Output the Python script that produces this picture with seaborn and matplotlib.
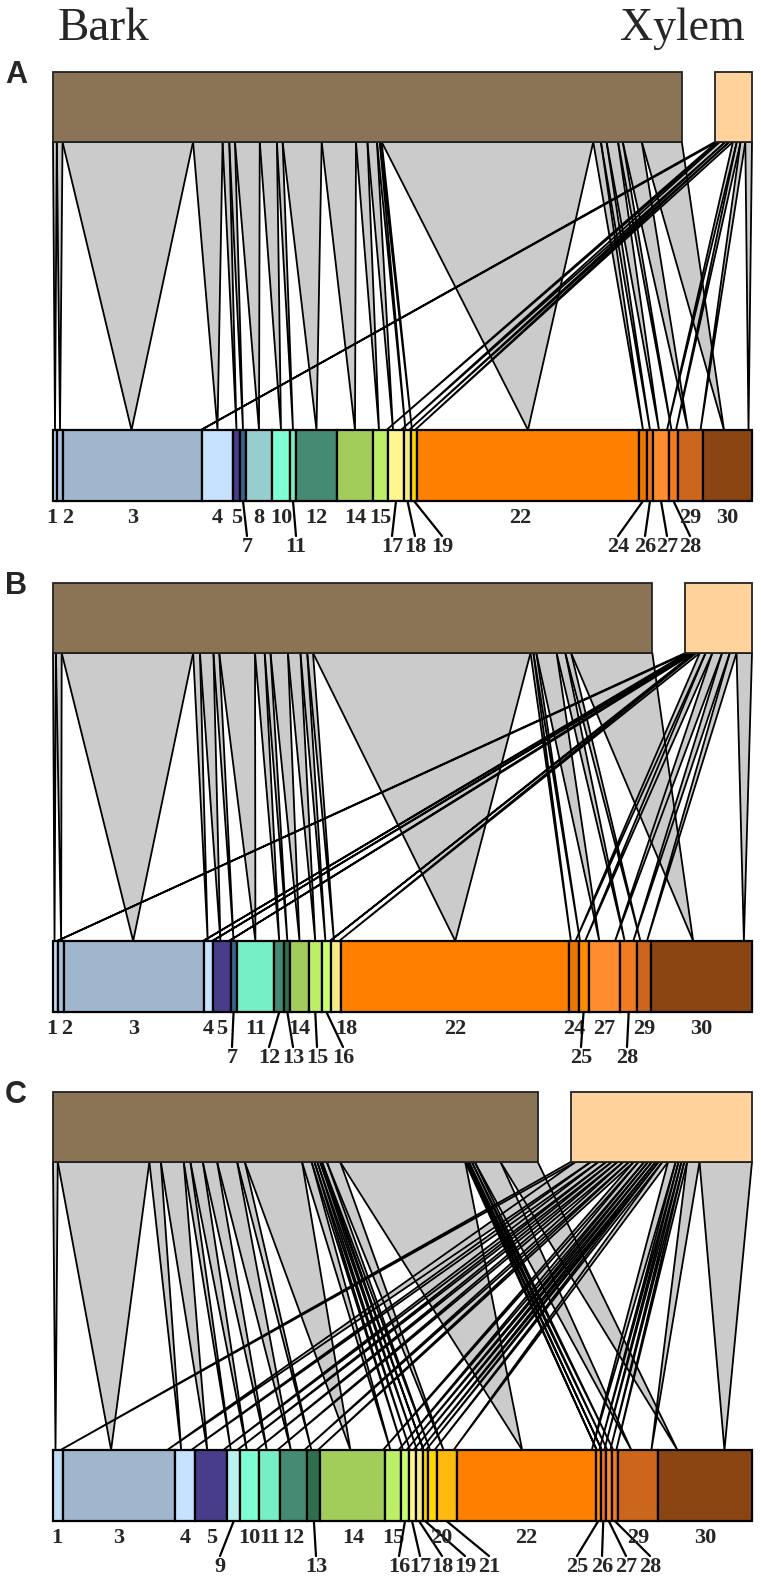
import matplotlib.pyplot as plt
from matplotlib.patches import Rectangle, Polygon
import seaborn as sns

sns.set_theme(style="white")

# colour of each compound group (same in all panels)
cat_colors = {
    1: "#bfdcf5", 2: "#a8c0d8", 3: "#9fb6cd", 4: "#c6e2ff", 5: "#483d8b",
    7: "#36648b", 8: "#96cdcd", 9: "#bbf0f0", 10: "#7fffd4", 11: "#76eec6",
    12: "#458b74", 13: "#2f6f4f", 14: "#a2cd5a", 15: "#bcee68", 16: "#caff70",
    17: "#fff68f", 18: "#f5e98a", 19: "#ffd700", 20: "#ffd700", 21: "#ffb90f",
    22: "#ff7f00", 24: "#ee7600", 25: "#ff8c00", 26: "#ee7621", 27: "#ff8c2e",
    28: "#f07b20", 29: "#cd661d", 30: "#8b4513",
}
bark_color = "#8b7355"
xylem_color = "#ffd39b"
ribbon_gray = "#cbcbcb"

# Panel A: group ids, share found in bark, share found in xylem
ids_a = [1, 2, 3, 4, 5, 7, 8, 10, 11, 12, 14, 15, 17, 18, 19, 22, 24, 26, 27, 28, 29, 30]
bark_a = [4, 6, 137, 31, 7, 6, 26, 18, 6, 41, 36, 12, 10, 3, 2, 222, 8, 6, 12, 5, 20, 42]
xylem_a = [0, 0, 2, 0, 0, 0, 0, 0, 0, 0, 0, 3, 6, 4, 4, 0, 0, 0, 4, 4, 5, 7]

# Panel B
ids_b = [1, 2, 3, 4, 5, 7, 11, 12, 13, 14, 15, 16, 18, 22, 24, 25, 27, 28, 29, 30]
bark_b = [3, 6, 136, 7, 14, 6, 37, 10, 6, 18, 13, 7, 6, 225, 3, 3, 21, 9, 6, 84]
xylem_b = [2, 0, 2, 2, 3, 0, 0, 0, 0, 0, 0, 2, 4, 0, 6, 7, 10, 8, 7, 16]

# Panel C
ids_c = [1, 3, 4, 5, 9, 10, 11, 12, 13, 14, 15, 16, 17, 18, 19, 20, 21, 22, 25, 26, 27, 28, 29, 30]
bark_c = [5, 96, 12, 24, 7, 13, 15, 21, 8, 60, 10, 3, 3, 3, 2, 5, 14, 131, 2, 2, 3, 3, 27, 39]
xylem_c = [5, 16, 8, 8, 6, 6, 6, 6, 5, 5, 6, 4, 4, 4, 3, 4, 6, 8, 3, 3, 3, 3, 13, 55]

# labels written on the second row (id -> x of the text) and small nudges of first-row labels
low_a = {7: 247, 11: 296, 17: 392, 18: 415, 19: 442, 24: 618, 26: 645, 27: 667, 28: 690}
low_b = {7: 232, 12: 269, 13: 293, 15: 317, 16: 343, 25: 581, 28: 627}
low_c = {9: 220, 13: 316, 16: 399, 17: 420, 18: 442, 19: 465, 21: 489, 25: 577, 26: 602, 27: 626, 28: 650}
nudge_a = {1: -3, 2: 8, 22: -8}
nudge_b = {1: -4, 2: 6, 18: 10}
nudge_c = {1: -1, 20: 9}

X0, X1 = 53, 752
GAP = 33
label_font = dict(family="Liberation Serif", weight="bold", fontsize=16)


def draw_panel(ax, letter, y0, ids, bark, xylem, low, nudge):
    total = sum(bark) + sum(xylem)
    width = X1 - X0
    s_bot = width / total
    s_top = (width - GAP) / total
    bark_end = X0 + s_top * sum(bark)
    xyl_start = bark_end + GAP
    top_lo = y0 + 70
    bot_hi = y0 + 358
    bot_lo = bot_hi + 71

    tris = []
    segs = []
    c = X0
    tb = X0
    tx = xyl_start
    for i, b, x in zip(ids, bark, xylem):
        w = (b + x) * s_bot
        wb = b * s_bot
        segs.append((i, c, w))
        if b > 0:
            tris.append([(tb, top_lo), (tb + b * s_top, top_lo), (c + wb / 2, bot_hi)])
            tb += b * s_top
        if x > 0:
            tris.append([(tx, top_lo), (tx + x * s_top, top_lo), (c + wb + (w - wb) / 2, bot_hi)])
            tx += x * s_top
        c += w

    for t in tris:
        ax.add_patch(Polygon(t, closed=True, facecolor=ribbon_gray, edgecolor="none", zorder=1))
    for t in tris:
        ax.add_patch(Polygon(t, closed=True, fill=False, edgecolor="black", lw=1.3, zorder=2))

    # top bars
    ax.add_patch(Rectangle((X0, y0), bark_end - X0, 70, facecolor=bark_color,
                           edgecolor="#222222", lw=1.3, zorder=3))
    ax.add_patch(Rectangle((xyl_start, y0), X1 - xyl_start, 70, facecolor=xylem_color,
                           edgecolor="#222222", lw=1.3, zorder=3))

    # bottom bar
    for i, c, w in segs:
        ax.add_patch(Rectangle((c, bot_hi), w, 71, facecolor=cat_colors[i],
                               edgecolor="black", lw=1.6, zorder=3))
        mid = c + w / 2
        if i in low:
            lx = low[i]
            ax.plot([mid, lx], [bot_lo, bot_lo + 35], color="black", lw=1.6, zorder=3)
            ax.text(lx, bot_lo + 46, str(i), ha="center", va="center", **label_font)
        else:
            ax.text(mid + nudge.get(i, 0), bot_lo + 17, str(i), ha="center", va="center",
                    **label_font)

    ax.text(5, y0 - 12, letter, ha="left", va="top", family="Liberation Sans",
            weight="bold", fontsize=22)


fig = plt.figure(figsize=(7.61, 15.81), dpi=100)
ax = fig.add_axes([0, 0, 1, 1])
ax.set_xlim(0, 761)
ax.set_ylim(1581, 0)
ax.axis("off")

ax.text(58, 40, "Bark", ha="left", va="baseline", family="Liberation Serif", fontsize=34)
ax.text(745, 40, "Xylem", ha="right", va="baseline", family="Liberation Serif", fontsize=33)

draw_panel(ax, "A", 72, ids_a, bark_a, xylem_a, low_a, nudge_a)
draw_panel(ax, "B", 583, ids_b, bark_b, xylem_b, low_b, nudge_b)
draw_panel(ax, "C", 1092, ids_c, bark_c, xylem_c, low_c, nudge_c)

fig.savefig("out.png", dpi=100)
